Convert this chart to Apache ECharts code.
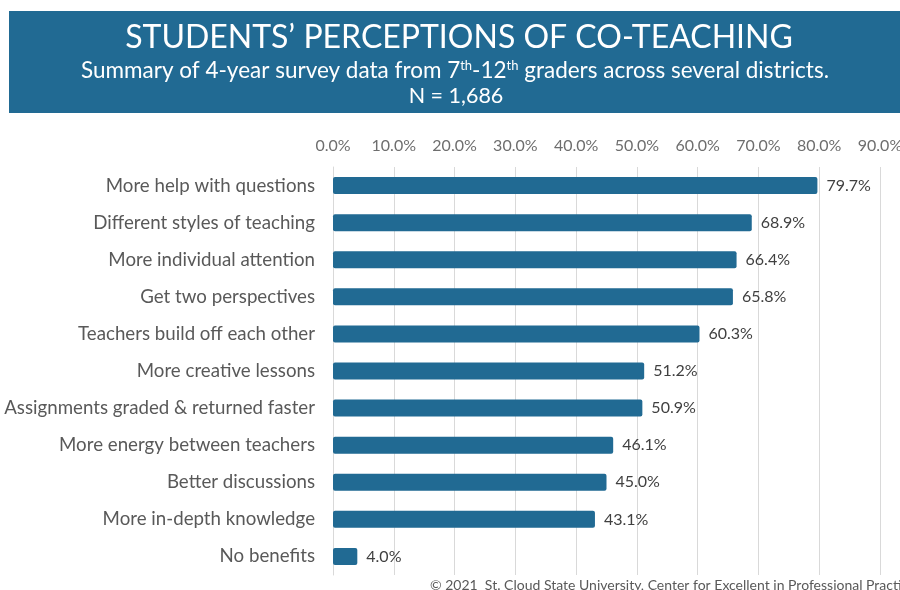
<!DOCTYPE html>
<html><head><meta charset="utf-8">
<script src="https://cdn.jsdelivr.net/npm/echarts@6/dist/echarts.min.js"></script>
<style>html,body{margin:0;padding:0;background:#fff}#c{width:900px;height:590px}</style>
</head><body><div id="c"></div>
<script>
var categories = ["More help with questions","Different styles of teaching","More individual attention","Get two perspectives","Teachers build off each other","More creative lessons","Assignments graded & returned faster","More energy between teachers","Better discussions","More in-depth knowledge","No benefits"];
var values = [79.7,68.9,66.4,65.8,60.3,51.2,50.9,46.1,45.0,43.1,4.0];
var titleText = "STUDENTS\u2019 PERCEPTIONS OF CO-TEACHING";
var footerText = "\u00a9 2021  St. Cloud State University, Center for Excellent in Professional Practice";

var chart = echarts.init(document.getElementById('c'), null, {renderer:'canvas'});
var FONT = 'Lato';
chart.setOption({
  backgroundColor:'#fff',
  animation:false,
  graphic:[
    {type:'rect', shape:{x:9,y:11,width:900,height:102}, style:{fill:'#216a93'}},
    {type:'text', x:459, y:38, style:{text:titleText, fill:'#fff', font:'32px Lato', textAlign:'center', textVerticalAlign:'middle'}},
    {type:'text', x:455, y:71, style:{
      text:'{a|Summary of 4-year survey data from 7}{s|th}{a|-12}{s|th}{a| graders across several districts.}',
      textAlign:'center', textVerticalAlign:'middle', fill:'#fff',
      rich:{a:{fill:'#fff', color:'#fff', fontSize:22.5, fontFamily:FONT},
            s:{fill:'#fff', color:'#fff', fontSize:13, fontFamily:FONT, verticalAlign:'top', padding:[0,0,9,0]}}}},
    {type:'text', x:456, y:96, style:{text:'N = 1,686', fill:'#fff', font:'21.5px Lato', textAlign:'center', textVerticalAlign:'middle'}},
    {type:'text', x:430, y:585, style:{text:footerText, fill:'#595959', font:'14px Lato', textVerticalAlign:'middle'}}
  ],
  grid:{left:333, right:20, top:167, bottom:15, containLabel:false, outerBoundsMode:'none'},
  xAxis:{type:'value', position:'top', min:0, max:90, interval:10,
    axisLabel:{formatter:function(v){return v.toFixed(1)+'%';}, color:'#6e6e6e', fontFamily:FONT, fontSize:16, margin:13},
    axisLine:{show:false}, axisTick:{show:false},
    splitLine:{show:true, lineStyle:{color:'#d9d9d9', width:1}}},
  yAxis:{type:'category', inverse:true, data:categories,
    axisLine:{show:true, lineStyle:{color:'#d9d9d9'}}, axisTick:{show:false},
    axisLabel:{color:'#595959', fontFamily:FONT, fontSize:18.7, margin:18}},
  series:[{type:'bar', data:values, barWidth:17,
    itemStyle:{color:'#216a93', borderRadius:2},
    label:{show:true, position:'right', distance:9, color:'#404040', fontFamily:FONT, fontSize:16,
      formatter:function(p){return p.value.toFixed(1)+'%';}}}]
});
</script></body></html>
